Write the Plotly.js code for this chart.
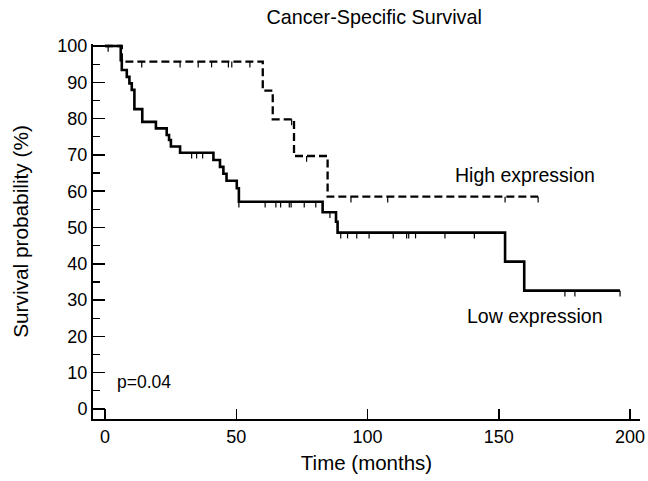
<!DOCTYPE html>
<html>
<head>
<meta charset="utf-8">
<script src="https://cdn.plot.ly/plotly-3.0.1.min.js"></script>
<style>html,body{margin:0;padding:0;background:#fff;}#chart{width:648px;height:481px;}</style>
</head>
<body>
<div id="chart"></div>
<script>
// ---- data ----
const highTimes = [0, 6.4, 60.1, 63.9, 72.0, 84.8];
const highSurv  = [100, 95.7, 87.7, 79.8, 69.7, 58.5];
const highEnd   = 165;
const highCensor = [1.2, 14, 28.6, 35.5, 40.6, 47, 48.3, 55.2, 71.1, 76.8, 93.7, 107.7, 152.4, 165];

const lowTimes = [0, 6.0, 6.4, 8.3, 9.3, 10.2, 11.2, 14.2, 19.4, 23.5, 24.4, 25.1, 28.6, 41.3, 43.8, 45.1, 46.3, 50.2, 51.0, 82.9, 88.0, 88.6, 152.4, 159.7];
const lowSurv  = [100, 96.1, 93.4, 91.5, 89.7, 87.9, 82.6, 79.1, 77.3, 75.5, 74.1, 72.3, 70.6, 68.6, 66.7, 64.8, 62.9, 60.8, 57.1, 54.2, 51.6, 48.6, 40.6, 32.6];
const lowEnd   = 196.2;
const lowCensor = [33, 34.9, 37.2, 51, 61, 65.1, 66.9, 70.2, 70.9, 75.9, 80.3, 85.7, 89.8, 92.4, 95.9, 100.6, 109.8, 114.9, 115.7, 118.3, 129.5, 140.7, 175.2, 179, 196.2];

const chartTitle = "Cancer-Specific Survival";
const xTitle = "Time (months)";
const yTitle = "Survival probability (%)";
const highLabel = "High expression";
const lowLabel = "Low expression";
const pLabel = "p=0.04";

// ---- helpers ----
function stepXY(times, surv, end) {
  return {x: times.concat([end]), y: surv.concat([surv[surv.length - 1]])};
}
function survAt(times, surv, t) {
  let s = surv[0];
  for (let i = 0; i < times.length; i++) { if (times[i] <= t) s = surv[i]; }
  return s;
}
function censorSegs(times, surv, cens, len) {
  const x = [], y = [];
  cens.forEach(t => {
    const s = survAt(times, surv, t);
    x.push(t, t, null); y.push(s, s - len, null);
  });
  return {x, y};
}

const FONT = "Liberation Sans, Arial, sans-serif";
const hs = stepXY(highTimes, highSurv, highEnd);
const ls = stepXY(lowTimes, lowSurv, lowEnd);
const hc = censorSegs(highTimes, highSurv, highCensor, 1.6);
const lc = censorSegs(lowTimes, lowSurv, lowCensor, 1.6);

const traces = [
  {x: ls.x, y: ls.y, mode: 'lines', line: {shape: 'hv', color: '#000', width: 2.6}, hoverinfo: 'skip'},
  {x: hs.x, y: hs.y, mode: 'lines', line: {shape: 'hv', color: '#000', width: 2.3, dash: '8px,4px'}, hoverinfo: 'skip'},
  {x: lc.x, y: lc.y, mode: 'lines', line: {color: '#000', width: 1.2}, hoverinfo: 'skip'},
  {x: hc.x, y: hc.y, mode: 'lines', line: {color: '#000', width: 1.2}, hoverinfo: 'skip'}
];

const layout = {
  width: 648, height: 481,
  margin: {l: 93, r: 8, t: 44, b: 62},
  paper_bgcolor: '#fff', plot_bgcolor: '#fff',
  showlegend: false,
  font: {family: FONT, size: 18, color: '#000'},
  title: {text: chartTitle, font: {family: FONT, size: 19.8, color: '#000'},
          xref: 'paper', x: 0.514, xanchor: 'center', yref: 'container', y: 0.965, yanchor: 'middle'},
  xaxis: {
    range: [-4.57, 203.8], showgrid: false, zeroline: false,
    showline: true, linecolor: '#000', linewidth: 2,
    ticks: 'inside', ticklen: 10, tickwidth: 1.5, tickcolor: '#000',
    tickvals: [0, 50, 100, 150, 200], ticktext: ['0', '50', '100', '150', '200'],
    tickfont: {family: FONT, size: 18, color: '#000'},
    title: {text: xTitle, font: {family: FONT, size: 20.5, color: '#000'}, standoff: 10}
  },
  yaxis: {
    range: [-2.75, 100.55], showgrid: false, zeroline: false,
    showline: true, linecolor: '#000', linewidth: 2,
    ticks: 'inside', ticklen: 12, tickwidth: 1.5, tickcolor: '#000',
    tickvals: [0, 10, 20, 30, 40, 50, 60, 70, 80, 90, 100],
    ticktext: ['0', '10', '20', '30', '40', '50', '60', '70', '80', '90', '100'],
    tickfont: {family: FONT, size: 18, color: '#000'},
    minor: {ticks: 'inside', ticklen: 7, tickwidth: 1.2, tickcolor: '#000', dtick: 5, showgrid: false},
    title: {text: yTitle, font: {family: FONT, size: 20.8, color: '#000'}, standoff: 23}
  },
  annotations: [
    {x: 160, y: 64.5, xref: 'x', yref: 'y', text: highLabel, showarrow: false, xanchor: 'center', yanchor: 'middle', font: {family: FONT, size: 19.5, color: '#000'}},
    {x: 163.8, y: 25.6, xref: 'x', yref: 'y', text: lowLabel, showarrow: false, xanchor: 'center', yanchor: 'middle', font: {family: FONT, size: 19.5, color: '#000'}},
    {x: 3.8, y: 7.4, xref: 'x', yref: 'y', text: pLabel, showarrow: false, xanchor: 'left', yanchor: 'middle', font: {family: FONT, size: 17.5, color: '#000'}}
  ]
};

Plotly.newPlot('chart', traces, layout, {staticPlot: true, displayModeBar: false});
</script>
</body>
</html>
